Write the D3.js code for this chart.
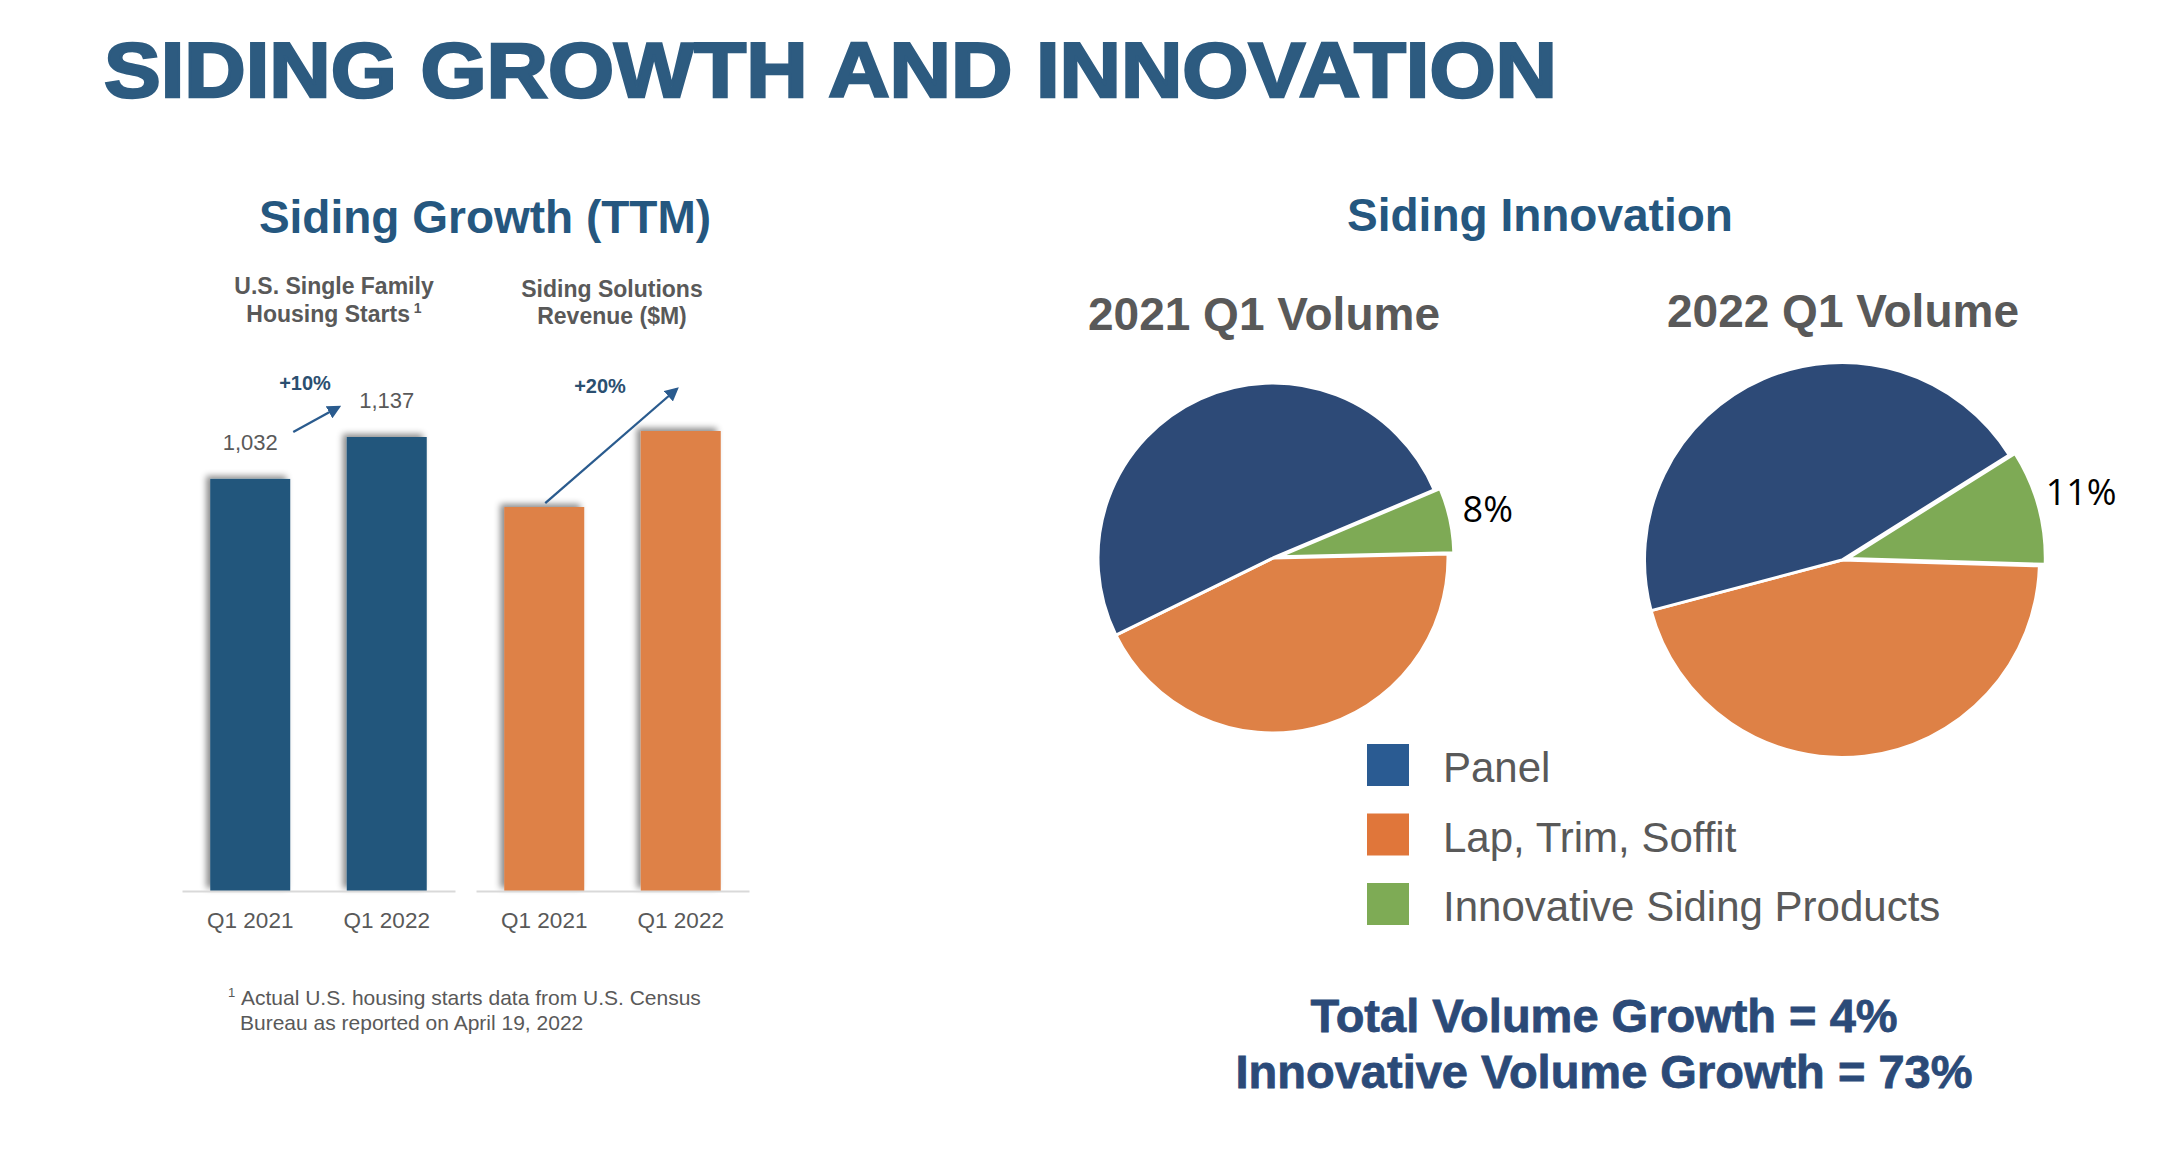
<!DOCTYPE html>
<html><head><meta charset="utf-8">
<script src="https://cdn.jsdelivr.net/npm/d3@7"></script>
<style>
html,body{margin:0;padding:0;background:#fff;}
svg{display:block;}
</style></head>
<body>
<svg id="chart" width="2180" height="1154"></svg>
<script>
// ---------- data ----------
const barCategories = ["Q1 2021", "Q1 2022"];
const housingStarts = [1032, 1137];
const sidingRevenue = [1000, 1198]; // unlabeled in source
const growthLabels = ["+10%", "+20%"];
const pieTitles = ["2021 Q1 Volume", "2022 Q1 Volume"];
const pieSegments = ["Lap, Trim, Soffit", "Panel", "Innovative Siding Products"];
const pie2021 = [43.1, 50.9, 6.0];
const pie2022 = [45.4, 45.2, 9.4];
const pieLabels = ["8%", "11%"];
const legendLabels = ["Panel", "Lap, Trim, Soffit", "Innovative Siding Products"];
const summaryLines = ["Total Volume Growth = 4%", "Innovative Volume Growth = 73%"];

// ---------- setup ----------
const svg = d3.select("#chart");
const defs = svg.append("defs");
const f = defs.append("filter").attr("id","shadow").attr("x","-20%").attr("y","-20%").attr("width","140%").attr("height","140%");
f.append("feDropShadow").attr("dx",-4).attr("dy",-3).attr("stdDeviation",3)
 .attr("flood-color","#000").attr("flood-opacity",0.45);

const SANS = "'Liberation Sans', Arial, Helvetica, sans-serif";
const GRAY = "#595959";

// main title
svg.append("text").attr("x",104).attr("y",97)
  .attr("font-family",SANS).attr("font-weight",700).attr("font-size",77)
  .attr("fill","#2D5B80").attr("stroke","#2D5B80").attr("stroke-width",2.5)
  .attr("textLength",1453).attr("lengthAdjust","spacingAndGlyphs")
  .text("SIDING GROWTH AND INNOVATION");

// section titles
svg.append("text").attr("x",485).attr("y",233).attr("text-anchor","middle")
  .attr("font-family",SANS).attr("font-weight",700).attr("font-size",46)
  .attr("fill","#25577F").text("Siding Growth (TTM)");
svg.append("text").attr("x",1540).attr("y",231).attr("text-anchor","middle")
  .attr("font-family",SANS).attr("font-weight",700).attr("font-size",46)
  .attr("fill","#25577F").text("Siding Innovation");

// ---------- bar panels ----------
const baseY = 891;
const panels = [
  {range:[182,455], values:housingStarts, top:437, color:"#24567C",
   title:["U.S. Single Family","Housing Starts"], sup:true, titleX:334, titleY:[294,322],
   showValues:true, growth:growthLabels[0]},
  {range:[476,749], values:sidingRevenue, top:431, color:"#DE8146",
   title:["Siding Solutions","Revenue ($M)"], sup:false, titleX:612, titleY:[297,324],
   showValues:false, growth:growthLabels[1]}
];

// arrowhead marker
defs.append("marker").attr("id","arrow").attr("viewBox","0 0 10 10")
  .attr("refX",8).attr("refY",5).attr("markerWidth",6).attr("markerHeight",6)
  .attr("orient","auto").attr("markerUnits","strokeWidth")
  .append("path").attr("d","M0,0 L10,5 L0,10 z").attr("fill","#2A5B8E");

panels.forEach((p,pi)=>{
  const x = d3.scaleBand().domain(barCategories).range(p.range).paddingInner(0.414).paddingOuter(0.207);
  const y = d3.scaleLinear().domain([0, d3.max(p.values)]).range([baseY, p.top]);
  const g = svg.append("g");
  g.selectAll("rect").data(p.values).join("rect")
    .attr("x",(d,i)=>x(barCategories[i])).attr("width",x.bandwidth())
    .attr("y",d=>y(d)).attr("height",d=>baseY-y(d))
    .attr("fill",p.color).attr("filter","url(#shadow)");
  const ax = g.append("g").attr("transform",`translate(0,${baseY})`)
    .call(d3.axisBottom(x).tickSize(0).tickPadding(21));
  ax.select(".domain").attr("stroke","#D9D9D9").attr("stroke-width",2);
  ax.selectAll(".tick text").attr("font-family",SANS).attr("font-size",22.5).attr("fill",GRAY).attr("dy","0.71em");
  // titles
  p.title.forEach((t,k)=>{
    const tx = g.append("text").attr("x",p.titleX).attr("y",p.titleY[k]).attr("text-anchor","middle")
      .attr("font-family",SANS).attr("font-weight",700).attr("font-size",23).attr("fill",GRAY).text(t);
    if(k===1 && p.sup){
      tx.append("tspan").attr("font-size",14).attr("dy",-9).text(" 1");
    }
  });
  // value labels
  if(p.showValues){
    g.selectAll(".val").data(p.values).join("text")
      .attr("x",(d,i)=>x(barCategories[i])+x.bandwidth()/2)
      .attr("y",d=>y(d)-29).attr("text-anchor","middle")
      .attr("font-family",SANS).attr("font-size",22).attr("fill",GRAY)
      .text(d=>d3.format(",")(d));
  }
  // growth arrow
  const x0 = x(barCategories[0]), x1 = x(barCategories[1]), bw = x.bandwidth();
  let a;
  if(pi===0){
    a = {x1:x0+bw+3, y1:y(p.values[0])-47, x2:x1-8, y2:y(p.values[1])-30, lx:305, ly:390};
  } else {
    a = {x1:x0+bw/2+1, y1:y(p.values[0])-4, x2:x1+bw/2-4, y2:y(p.values[1])-42, lx:600, ly:393};
  }
  g.append("line").attr("x1",a.x1).attr("y1",a.y1).attr("x2",a.x2).attr("y2",a.y2)
    .attr("stroke","#2A5B8E").attr("stroke-width",2.3).attr("marker-end","url(#arrow)");
  g.append("text").attr("x",a.lx).attr("y",a.ly).attr("text-anchor","middle")
    .attr("font-family",SANS).attr("font-weight",700).attr("font-size",20)
    .attr("fill","#2B4F70").text(p.growth);
});

// footnote
const fn = svg.append("g").attr("font-family",SANS).attr("fill",GRAY);
fn.append("text").attr("x",228).attr("y",997).attr("font-size",13).text("1");
fn.append("text").attr("x",241).attr("y",1005).attr("font-size",21).text("Actual U.S. housing starts data from U.S. Census");
fn.append("text").attr("x",240).attr("y",1030).attr("font-size",21).text("Bureau as reported on April 19, 2022");

// ---------- pies ----------
const pieColors = d3.scaleOrdinal().domain(pieSegments).range(["#DE8146","#2D4A77","#7EAA55"]);
const pies = [
  {vals:pie2021, cx:1273, cy:558, r:175, rot:88.7, title:pieTitles[0], tx:1264, ty:330, label:pieLabels[0]},
  {vals:pie2022, cx:1842, cy:560, r:197.5, rot:91.7, title:pieTitles[1], tx:1843, ty:327, label:pieLabels[1]}
];
pies.forEach(p=>{
  svg.append("text").attr("x",p.tx).attr("y",p.ty).attr("text-anchor","middle")
    .attr("font-family",SANS).attr("font-weight",700).attr("font-size",46).attr("fill",GRAY).text(p.title);
  const s = p.rot*Math.PI/180;
  const arcs = d3.pie().sort(null).startAngle(s).endAngle(s+2*Math.PI)(p.vals);
  const arc = d3.arc().innerRadius(0).outerRadius(p.r);
  const g = svg.append("g").attr("transform",`translate(${p.cx},${p.cy})`);
  g.selectAll("path").data(arcs).join("path")
    .attr("d",arc)
    .attr("transform",(d,i)=>{
      if(i!==2) return null;
      const m=(d.startAngle+d.endAngle)/2, off=6;
      return `translate(${off*Math.sin(m)},${-off*Math.cos(m)})`;
    })
    .attr("fill",(d,i)=>pieColors(pieSegments[i]))
    .attr("stroke","#fff").attr("stroke-width",3).attr("stroke-linejoin","round");
  const gd = arcs[2], m=(gd.startAngle+gd.endAngle)/2, lr=p.r*1.255;
  g.append("text").attr("x",lr*Math.sin(m)).attr("y",-lr*Math.cos(m)-3)
    .attr("text-anchor","middle").attr("dominant-baseline","central")
    .attr("font-family","'Open Sans','Noto Sans',sans-serif").attr("font-size",36).attr("fill","#000")
    .text(p.label);
});

// legend
const legendColors = d3.scaleOrdinal().domain(legendLabels).range(["#2A5B92","#E0763A","#7EAB55"]);
const lg = svg.append("g");
const ly = d3.scalePoint().domain(legendLabels).range([744,883]);
lg.selectAll("rect").data(legendLabels).join("rect")
  .attr("x",1367).attr("y",d=>ly(d)).attr("width",42).attr("height",42)
  .attr("fill",d=>legendColors(d));
lg.selectAll("text").data(legendLabels).join("text")
  .attr("x",1443).attr("y",d=>ly(d)+38)
  .attr("font-family",SANS).attr("font-size",42).attr("fill",GRAY).text(d=>d);

// summary
svg.selectAll(".summary").data(summaryLines).join("text").attr("class","summary")
  .attr("x",1604).attr("y",(d,i)=>1032+i*56).attr("text-anchor","middle")
  .attr("font-family",SANS).attr("font-weight",700).attr("font-size",47)
  .attr("fill","#2B4A78").attr("stroke","#2B4A78").attr("stroke-width",0.8)
  .text(d=>d);
</script>
</body></html>
